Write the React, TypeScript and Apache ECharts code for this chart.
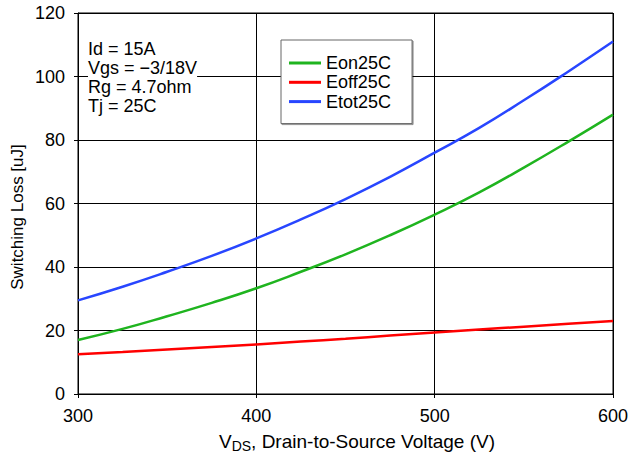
import React, { useEffect, useRef } from "react";
import * as echarts from "echarts";

const vds = [300, 325, 350, 375, 400, 425, 450, 475, 500, 525, 550, 575, 600];
const eon25 = [17, 20.5, 24.5, 28.7, 33.3, 38.5, 44, 50, 56.5, 63.5, 71.3, 79.5, 88];
const eoff25 = [12.5, 13.2, 14, 14.8, 15.6, 16.5, 17.4, 18.4, 19.4, 20.3, 21.2, 22.1, 23];
const etot25 = [29.5, 33.8, 38.5, 43.5, 49, 55, 61.4, 68.4, 76, 83.8, 92.5, 101.6, 111];
const seriesNames = ["Eon25C", "Eoff25C", "Etot25C"];
const seriesColors = ["#1fb41f", "#ff0000", "#2846ff"];
const conditions = ["Id = 15A", "Vgs = \u22123/18V", "Rg = 4.7ohm", "Tj = 25C"];

const FONT = "'Liberation Sans', Arial, Helvetica, sans-serif";

export default function App() {
  const ref = useRef<HTMLDivElement>(null);
  useEffect(() => {
    document.body.style.margin = "0";
    if (!ref.current) return;
    const chart = echarts.init(ref.current, undefined, { renderer: "svg" });
    const data = [eon25, eoff25, etot25];
    chart.setOption({
      animation: false,
      backgroundColor: "#fff",
      textStyle: { fontFamily: FONT },
      grid: {
        left: 78,
        right: 24,
        top: 13,
        bottom: 63,
        show: true,
        borderColor: "#000",
        borderWidth: 1,
      },
      xAxis: {
        type: "value",
        min: 300,
        max: 600,
        interval: 100,
        axisLine: { show: true, lineStyle: { color: "#000", width: 1 } },
        axisTick: { show: true, length: 4, lineStyle: { color: "#000" } },
        axisLabel: { color: "#000", fontSize: 18, margin: 13, fontFamily: FONT },
        splitLine: { show: true, lineStyle: { color: "#000", width: 1 } },
      },
      yAxis: {
        type: "value",
        min: 0,
        max: 120,
        interval: 20,
        axisLine: { show: true, lineStyle: { color: "#000", width: 1 } },
        axisTick: { show: true, length: 4, lineStyle: { color: "#000" } },
        axisLabel: { color: "#000", fontSize: 18, margin: 13, fontFamily: FONT },
        splitLine: { show: true, lineStyle: { color: "#000", width: 1 } },
      },
      legend: {
        show: true,
        orient: "vertical",
        left: 281,
        top: 40,
        data: seriesNames,
        itemWidth: 32,
        itemHeight: 3,
        icon: "rect",
        itemGap: 1.3,
        padding: [14, 21, 13, 8],
        backgroundColor: "#fff",
        borderColor: "#666",
        borderWidth: 1,
        shadowColor: "rgba(0,0,0,0.45)",
        shadowBlur: 1,
        shadowOffsetX: 1,
        shadowOffsetY: 1,
        textStyle: { fontSize: 18, lineHeight: 18, color: "#000", fontFamily: FONT },
      },
      graphic: [
        {
          type: "text",
          left: 88,
          top: 39,
          z: 10,
          style: {
            text: conditions.join("\n"),
            fill: "#000",
            font: `18px ${FONT}`,
            lineHeight: 19,
            backgroundColor: "#fff",
          },
        },
        {
          type: "text",
          x: 17,
          y: 217,
          rotation: Math.PI / 2,
          style: {
            text: "Switching Loss [uJ]",
            fill: "#000",
            font: `17px ${FONT}`,
            align: "center",
            verticalAlign: "middle",
          },
        },
        {
          type: "text",
          x: 357,
          y: 441,
          style: {
            text: "{a|V}{s|DS}{a|, Drain-to-Source Voltage (V)}",
            align: "center",
            verticalAlign: "middle",
            rich: {
              a: { fontSize: 19, fontFamily: FONT, fill: "#000", color: "#000" },
              s: { fontSize: 14, fontFamily: FONT, fill: "#000", color: "#000", padding: [9, 0, 0, 0] },
            },
          },
        },
      ],
      series: seriesNames.map((name, i) => ({
        name,
        type: "line",
        smooth: 0.5,
        showSymbol: false,
        symbol: "none",
        color: seriesColors[i],
        lineStyle: { color: seriesColors[i], width: 2.5 },
        data: vds.map((x, j) => [x, data[i][j]]),
        z: 3,
      })),
    });
    return () => chart.dispose();
  }, []);
  return <div ref={ref} style={{ width: 637, height: 457 }} />;
}
